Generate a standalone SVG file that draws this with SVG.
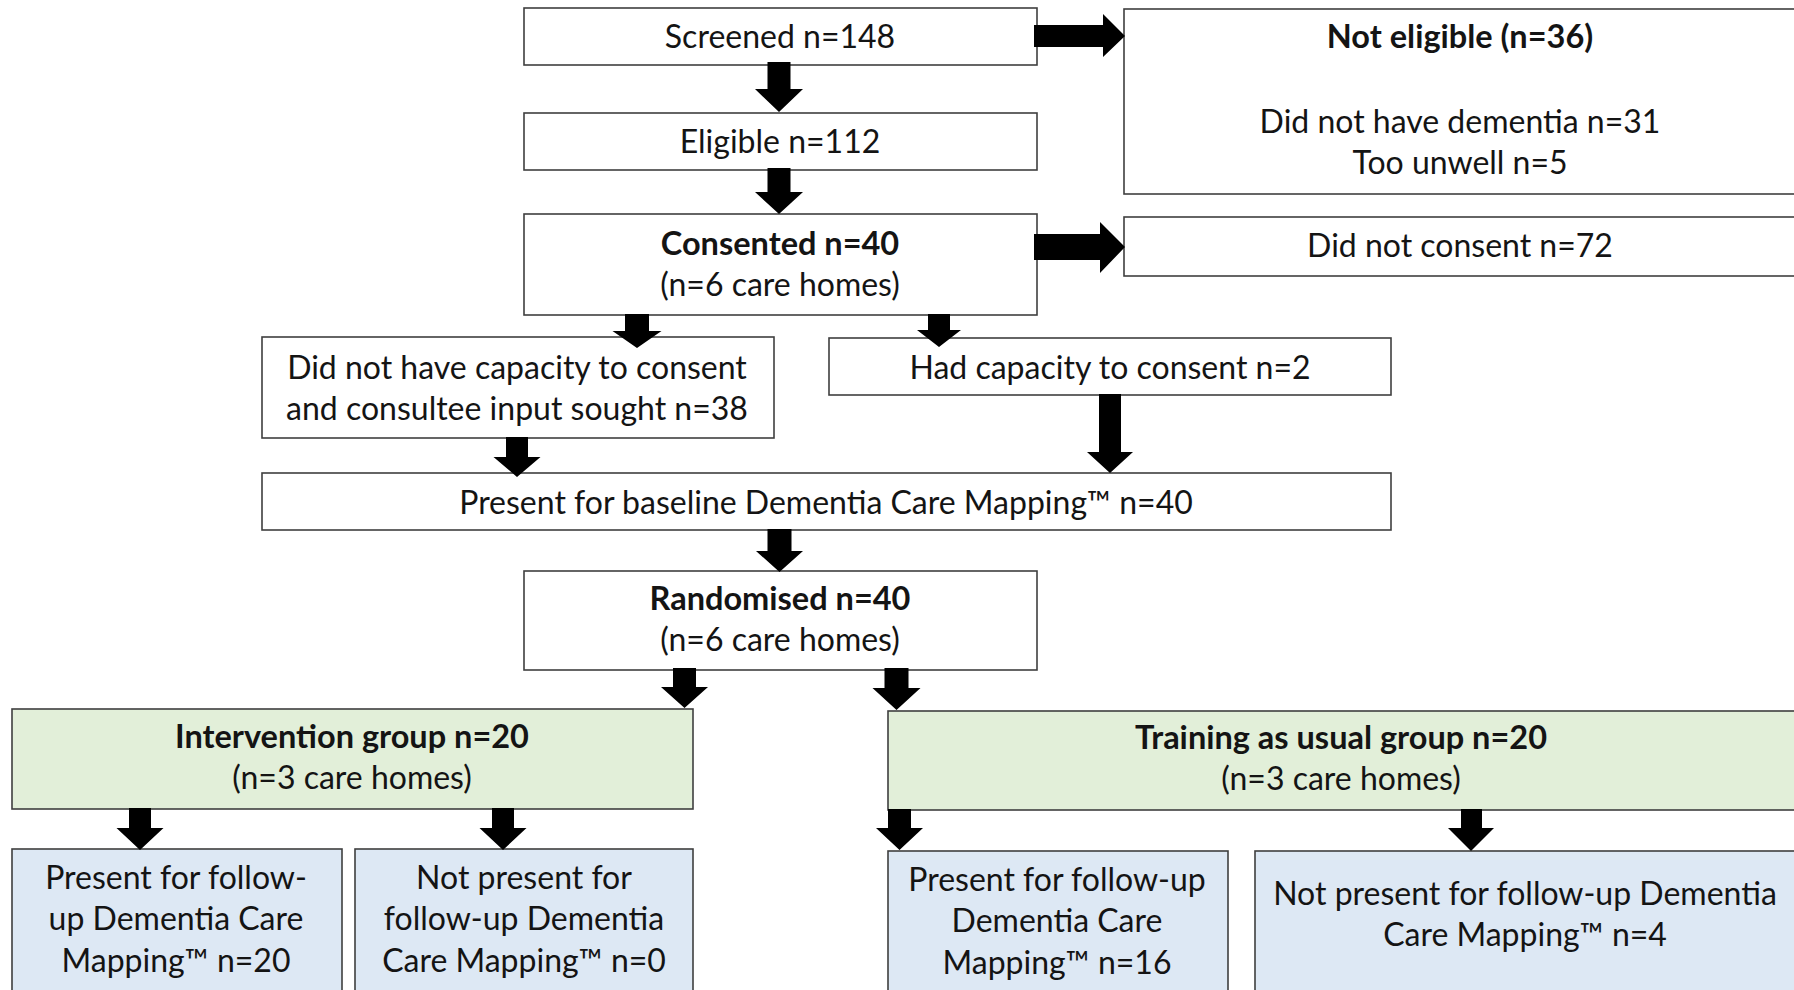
<svg xmlns="http://www.w3.org/2000/svg" width="1794" height="990" viewBox="0 0 1794 990">
  <style>
    .box { fill: #ffffff; stroke: #3f3f3f; stroke-width: 1.6; }
    .grp { fill: #e2efd9; stroke: #3f3f3f; stroke-width: 1.6; }
    .fu  { fill: #dde8f4; stroke: #3f3f3f; stroke-width: 1.6; }
    text { font-family: Lato, "Liberation Sans", sans-serif; font-size: 32px; fill: #141414; text-anchor: middle; }
    .b { font-weight: bold; font-size: 32.5px; }
    .arr { fill: #000000; }
  </style>
  <rect width="1794" height="990" fill="#ffffff"/>

  <g id="screened">
    <rect class="box" x="524" y="8" width="513" height="57"/>
    <text x="780" y="48">Screened n=148</text>
  </g>
  <g id="eligible">
    <rect class="box" x="524" y="113" width="513" height="57"/>
    <text x="780" y="153">Eligible n=112</text>
  </g>
  <g id="consented">
    <rect class="box" x="524" y="214" width="513" height="101"/>
    <text class="b" x="780" y="255">Consented n=40</text>
    <text x="780" y="296">(n=6 care homes)</text>
  </g>
  <g id="not-eligible">
    <rect class="box" x="1124" y="9" width="672" height="185"/>
    <text class="b" x="1460" y="48">Not eligible (n=36)</text>
    <text x="1460" y="133">Did not have dementia n=31</text>
    <text x="1460" y="174">Too unwell n=5</text>
  </g>
  <g id="did-not-consent">
    <rect class="box" x="1124" y="217" width="672" height="59"/>
    <text x="1460" y="257">Did not consent n=72</text>
  </g>
  <g id="no-capacity">
    <rect class="box" x="262" y="337" width="512" height="101"/>
    <text x="517" y="379">Did not have capacity to consent</text>
    <text x="517" y="420">and consultee input sought n=38</text>
  </g>
  <g id="had-capacity">
    <rect class="box" x="829" y="338" width="562" height="57"/>
    <text x="1110" y="379">Had capacity to consent n=2</text>
  </g>
  <g id="baseline">
    <rect class="box" x="262" y="473" width="1129" height="57"/>
    <text x="826" y="514">Present for baseline Dementia Care Mapping™ n=40</text>
  </g>
  <g id="randomised">
    <rect class="box" x="524" y="571" width="513" height="99"/>
    <text class="b" x="780" y="610">Randomised n=40</text>
    <text x="780" y="651">(n=6 care homes)</text>
  </g>
  <g id="intervention">
    <rect class="grp" x="12" y="709" width="681" height="100"/>
    <text class="b" x="352" y="748">Intervention group n=20</text>
    <text x="352" y="789">(n=3 care homes)</text>
  </g>
  <g id="tau">
    <rect class="grp" x="888" y="711" width="910" height="99"/>
    <text class="b" x="1341" y="749">Training as usual group n=20</text>
    <text x="1341" y="790">(n=3 care homes)</text>
  </g>
  <g id="int-present">
    <rect class="fu" x="12" y="849" width="330" height="160"/>
    <text x="176" y="889">Present for follow-</text>
    <text x="176" y="930">up Dementia Care</text>
    <text x="176" y="972">Mapping™ n=20</text>
  </g>
  <g id="int-absent">
    <rect class="fu" x="355" y="849" width="338" height="160"/>
    <text x="524" y="889">Not present for</text>
    <text x="524" y="930">follow-up Dementia</text>
    <text x="524" y="972">Care Mapping™ n=0</text>
  </g>
  <g id="tau-present">
    <rect class="fu" x="888" y="851" width="340" height="160"/>
    <text x="1057" y="891">Present for follow-up</text>
    <text x="1057" y="932">Dementia Care</text>
    <text x="1057" y="974">Mapping™ n=16</text>
  </g>
  <g id="tau-absent">
    <rect class="fu" x="1255" y="851" width="543" height="160"/>
    <text x="1525" y="905">Not present for follow-up Dementia</text>
    <text x="1525" y="946">Care Mapping™ n=4</text>
  </g>

  <g id="connectors" class="arr">
    <!-- screened to eligible -->
    <polygon points="767.5,62 790.5,62 790.5,89 803,89 779,112 755,89 767.5,89"/>
    <!-- eligible to consented -->
    <polygon points="767.5,168 790.5,168 790.5,192 803,192 779,214 755,192 767.5,192"/>
    <!-- consented to the two capacity groups -->
    <polygon points="625,314 649,314 649,331 661.5,331 637,348 612.5,331 625,331"/>
    <polygon points="928,314 950,314 950,330 961,330 939,347 917,330 928,330"/>
    <!-- capacity groups to baseline -->
    <polygon points="506,437 528,437 528,457 540.5,457 517,477 493.5,457 506,457"/>
    <polygon points="1099,394 1121,394 1121,452 1133,452 1110,473 1087,452 1099,452"/>
    <!-- baseline to randomised -->
    <polygon points="767.5,529 791.5,529 791.5,551 803,551 779.5,572 756,551 767.5,551"/>
    <!-- randomised to arms -->
    <polygon points="673,668 696,668 696,687 708,687 684.5,708 661,687 673,687"/>
    <polygon points="884.5,668 908.5,668 908.5,688 920.5,688 896.5,710 872.5,688 884.5,688"/>
    <!-- arms to follow-up -->
    <polygon points="129,808 151,808 151,828 163.5,828 140,850 116.5,828 129,828"/>
    <polygon points="492,808 514,808 514,828 526.5,828 503,850 479.5,828 492,828"/>
    <polygon points="888,809 911,809 911,828 923,828 899.5,850 876,828 888,828"/>
    <polygon points="1461,809 1482,809 1482,828 1494,828 1471,851 1448,828 1461,828"/>
    <!-- side exclusions -->
    <polygon points="1034,25 1103,25 1103,14 1125,36 1103,57 1103,47 1034,47"/>
    <polygon points="1034,234 1100,234 1100,222 1125,247 1100,273 1100,260 1034,260"/>
  </g>
</svg>
